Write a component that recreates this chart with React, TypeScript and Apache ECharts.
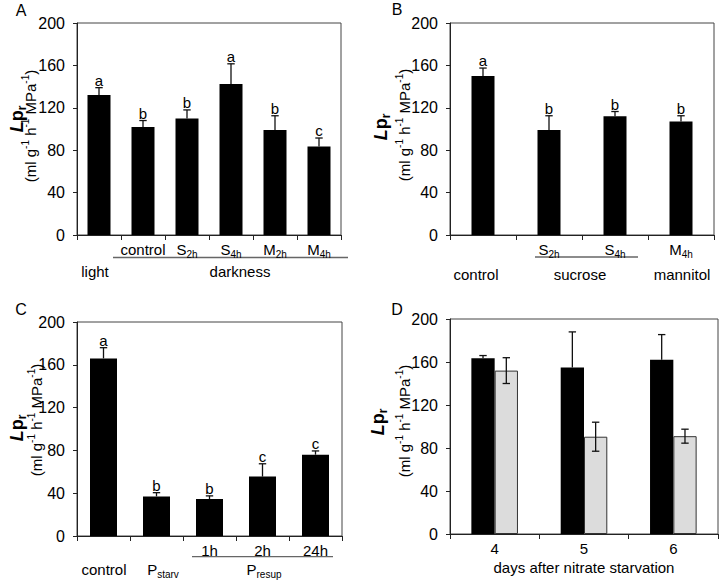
import React, { useEffect, useRef } from 'react';
import * as echarts from 'echarts';

const FONT = "'Liberation Sans', Arial, Helvetica, sans-serif";

// ---- Panel A
const aCategories = ['light', 'control', 'S2h', 'S4h', 'M2h', 'M4h'];
const aTickLabels = ['', 'control', 'S_2h', 'S_4h', 'M_2h', 'M_4h'];
const aValues = [132, 102, 110, 142.5, 99, 83.5];
const aErrors = [7, 6, 8, 19, 13.5, 8];
const aLetters = ['a', 'b', 'b', 'a', 'b', 'c'];

// ---- Panel B
const bCategories = ['control', 'S2h', 'S4h', 'M4h'];
const bTickLabels = ['', 'S_2h', 'S_4h', 'M_4h'];
const bValues = [150, 99, 112, 107];
const bErrors = [7.5, 13.5, 4.5, 5.5];
const bLetters = ['a', 'b', 'b', 'b'];

// ---- Panel C
const cCategories = ['control', 'Pstarv', '1h', '2h', '24h'];
const cTickLabels = ['', '', '1h', '2h', '24h'];
const cValues = [166, 37, 34.5, 55.5, 76];
const cErrors = [10, 3.5, 3, 12, 3.5];
const cLetters = ['a', 'b', 'b', 'c', 'c'];

// ---- Panel D
const dCategories = ['4', '5', '6'];
const dBlackValues = [163.5, 155, 162];
const dBlackErrors = [2.5, 33, 23.5];
const dGrayValues = [152, 90.5, 91];
const dGrayErrors = [12, 13.5, 6.5];
const dAxisName = 'days after nitrate starvation';

const Y_MIN = 0;
const Y_MAX = 200;
const Y_STEP = 40;

function richify(label: string): string {
  if (!label) return '';
  const parts = label.split('_');
  if (parts.length === 2) return `{n|${parts[0]}}{s|${parts[1]}}`;
  return `{n|${label}}`;
}

const AXIS_RICH = {
  n: { fontSize: 15, fontFamily: FONT, color: '#000', lineHeight: 20 },
  s: { fontSize: 10, fontFamily: FONT, color: '#000', lineHeight: 10, padding: [10, 0, 0, 0] },
};

const G_RICH = {
  n: { fontSize: 15, fontFamily: FONT, fill: '#000', lineHeight: 20 },
  s: { fontSize: 10, fontFamily: FONT, fill: '#000', lineHeight: 10, padding: [10, 0, 0, 0] },
  u: { fontSize: 10, fontFamily: FONT, fill: '#000', lineHeight: 10, padding: [0, 0, 10, 0] },
  L: { fontSize: 18, fontFamily: FONT, fontWeight: 'bold', fontStyle: 'italic', fill: '#000', lineHeight: 22 },
  p: { fontSize: 18, fontFamily: FONT, fontWeight: 'bold', fill: '#000', lineHeight: 22 },
  r: { fontSize: 12, fontFamily: FONT, fontWeight: 'bold', fill: '#000', lineHeight: 12, padding: [10, 0, 0, 0] },
};

const LPR = '{L|L}{p|p}{r|r}';
const UNITS = '{n|(ml g}{u|-1}{n| h}{u|-1}{n| MPa}{u|-1}{n|)}';

const grids = [
  { left: 77, top: 23, width: 264, height: 212 },
  { left: 450, top: 23, width: 264, height: 212 },
  { left: 77, top: 322, width: 265, height: 214 },
  { left: 450, top: 319, width: 268, height: 215 },
];

const AXIS_COLOR = '#222';

function xAxis(k: number, cats: string[], ticks: string[] | null, extra: any = {}) {
  return {
    type: 'category',
    gridIndex: k,
    data: cats,
    axisLine: { lineStyle: { color: AXIS_COLOR, width: 1 } },
    axisTick: { show: true, length: 5, lineStyle: { color: AXIS_COLOR } },
    axisLabel: {
      interval: 0,
      margin: 4,
      color: '#000',
      fontSize: 15,
      fontFamily: FONT,
      lineHeight: 20,
      formatter: (v: string, i: number) => (ticks ? richify(ticks[i]) : `{n|${v}}`),
      rich: AXIS_RICH,
    },
    ...extra,
  };
}

function yAxis(k: number) {
  return {
    type: 'value',
    gridIndex: k,
    min: Y_MIN,
    max: Y_MAX,
    interval: Y_STEP,
    axisLine: { show: true, lineStyle: { color: AXIS_COLOR, width: 1 } },
    axisTick: { show: true, length: 4, lineStyle: { color: AXIS_COLOR } },
    axisLabel: { margin: 12, fontSize: 16, fontFamily: FONT, color: '#000' },
    splitLine: { show: false },
  };
}

function errorSeries(
  k: number,
  values: number[],
  errors: number[],
  letters: string[] | null,
  offset: number,
  both: boolean
) {
  return {
    type: 'custom',
    xAxisIndex: k,
    yAxisIndex: k,
    z: 10,
    clip: false,
    encode: { x: 0, y: 1 },
    data: values.map((v, i) => [i, v, errors[i]]),
    renderItem: (params: any, api: any) => {
      const i = api.value(0);
      const v = api.value(1);
      const e = api.value(2);
      const c = api.coord([i, v]);
      const t = api.coord([i, v + e]);
      const b = api.coord([i, both ? v - e : v]);
      const x = c[0] + offset;
      const cap = 3.7;
      const ls = { stroke: '#111', lineWidth: 1.3 };
      const children: any[] = [
        { type: 'line', shape: { x1: x, y1: b[1], x2: x, y2: t[1] }, style: ls },
        { type: 'line', shape: { x1: x - cap, y1: t[1], x2: x + cap, y2: t[1] }, style: ls },
      ];
      if (both) {
        children.push({ type: 'line', shape: { x1: x - cap, y1: b[1], x2: x + cap, y2: b[1] }, style: ls });
      }
      const letter = letters ? letters[params.dataIndex] : '';
      if (letter) {
        children.push({
          type: 'text',
          style: {
            text: letter,
            x,
            y: t[1],
            align: 'center',
            verticalAlign: 'bottom',
            textAlign: 'center',
            textVerticalAlign: 'bottom',
            fontSize: 15,
            fontFamily: FONT,
            fill: '#000',
          },
        });
      }
      return { type: 'group', children };
    },
  };
}

function gText(x: number, y: number, text: string, extra: any = {}) {
  return {
    type: 'text',
    x,
    y,
    ...extra,
    style: {
      text,
      rich: G_RICH,
      fontSize: 15,
      fontFamily: FONT,
      fill: '#000',
      align: 'center',
      verticalAlign: 'middle',
      textAlign: 'center',
      textVerticalAlign: 'middle',
    },
  };
}

function yTitle(lx: number, ly: number, ux: number, uy: number) {
  const rot = { rotation: Math.PI / 2 };
  return [gText(lx, ly, LPR, rot), gText(ux, uy, UNITS, rot)];
}

function gLine(x1: number, x2: number, y: number) {
  return {
    type: 'line',
    shape: { x1, y1: y, x2, y2: y },
    style: { stroke: '#666', lineWidth: 1.3 },
  };
}

function panelLetter(x: number, y: number, t: string) {
  return {
    type: 'text',
    x,
    y,
    style: {
      text: t,
      fontSize: 16,
      fontFamily: FONT,
      fill: '#000',
      align: 'center',
      verticalAlign: 'middle',
      textAlign: 'center',
      textVerticalAlign: 'middle',
    },
  };
}

export default function App() {
  const ref = useRef<HTMLDivElement>(null);

  useEffect(() => {
    if (!ref.current) return;
    const chart = echarts.init(ref.current, undefined, { renderer: 'svg' });
    const dBar = 23.3;

    const option: any = {
      animation: false,
      backgroundColor: '#fff',
      grid: grids.map((g) => ({
        ...g,
        show: true,
        borderColor: '#444',
        borderWidth: 1,
        backgroundColor: 'transparent',
        containLabel: false,
        outerBoundsMode: 'none',
      })),
      xAxis: [
        xAxis(0, aCategories, aTickLabels),
        xAxis(1, bCategories, bTickLabels),
        xAxis(2, cCategories, cTickLabels),
        xAxis(3, dCategories, null, {
          name: dAxisName,
          nameLocation: 'middle',
          nameGap: 26,
          nameTextStyle: { fontSize: 15, fontFamily: FONT, color: '#000' },
        }),
      ],
      yAxis: [yAxis(0), yAxis(1), yAxis(2), yAxis(3)],
      series: [
        { type: 'bar', xAxisIndex: 0, yAxisIndex: 0, data: aValues, barWidth: 23, itemStyle: { color: '#000' } },
        errorSeries(0, aValues, aErrors, aLetters, 0, false),
        { type: 'bar', xAxisIndex: 1, yAxisIndex: 1, data: bValues, barWidth: 23, itemStyle: { color: '#000' } },
        errorSeries(1, bValues, bErrors, bLetters, 0, false),
        { type: 'bar', xAxisIndex: 2, yAxisIndex: 2, data: cValues, barWidth: 27, itemStyle: { color: '#000' } },
        errorSeries(2, cValues, cErrors, cLetters, 0, false),
        {
          type: 'bar',
          xAxisIndex: 3,
          yAxisIndex: 3,
          data: dBlackValues,
          barWidth: dBar,
          barGap: '0%',
          itemStyle: { color: '#000' },
        },
        {
          type: 'bar',
          xAxisIndex: 3,
          yAxisIndex: 3,
          data: dGrayValues,
          barWidth: dBar,
          barGap: '0%',
          itemStyle: { color: '#dcdcdc', borderColor: '#333', borderWidth: 1 },
        },
        errorSeries(3, dBlackValues, dBlackErrors, null, -dBar / 2, false),
        errorSeries(3, dGrayValues, dGrayErrors, null, dBar / 2, true),
      ],
      graphic: [
        panelLetter(21, 10, 'A'),
        panelLetter(397, 9, 'B'),
        panelLetter(21, 309, 'C'),
        panelLetter(397, 309, 'D'),
        // y titles
        ...yTitle(17, 119, 30, 126),
        ...yTitle(381, 127, 404, 125),
        ...yTitle(17, 428, 36, 420),
        ...yTitle(378, 422, 404, 421),
        // panel A second row
        gText(95, 271, '{n|light}'),
        gText(240, 271, '{n|darkness}'),
        gLine(113, 348, 257.5),
        // panel B second row
        gText(476, 274, '{n|control}'),
        gText(580, 274, '{n|sucrose}'),
        gText(682, 274, '{n|mannitol}'),
        gLine(535, 638, 257),
        // panel C second row
        gText(104, 569, '{n|control}'),
        gText(163, 569, richify('P_starv')),
        gText(264, 569, richify('P_resup')),
        gLine(192, 333, 556.7),
      ],
    };

    chart.setOption(option);
    return () => chart.dispose();
  }, []);

  return (
    <div
      ref={ref}
      style={{ position: 'fixed', left: 0, top: 0, width: 720, height: 580, background: '#fff' }}
    />
  );
}
